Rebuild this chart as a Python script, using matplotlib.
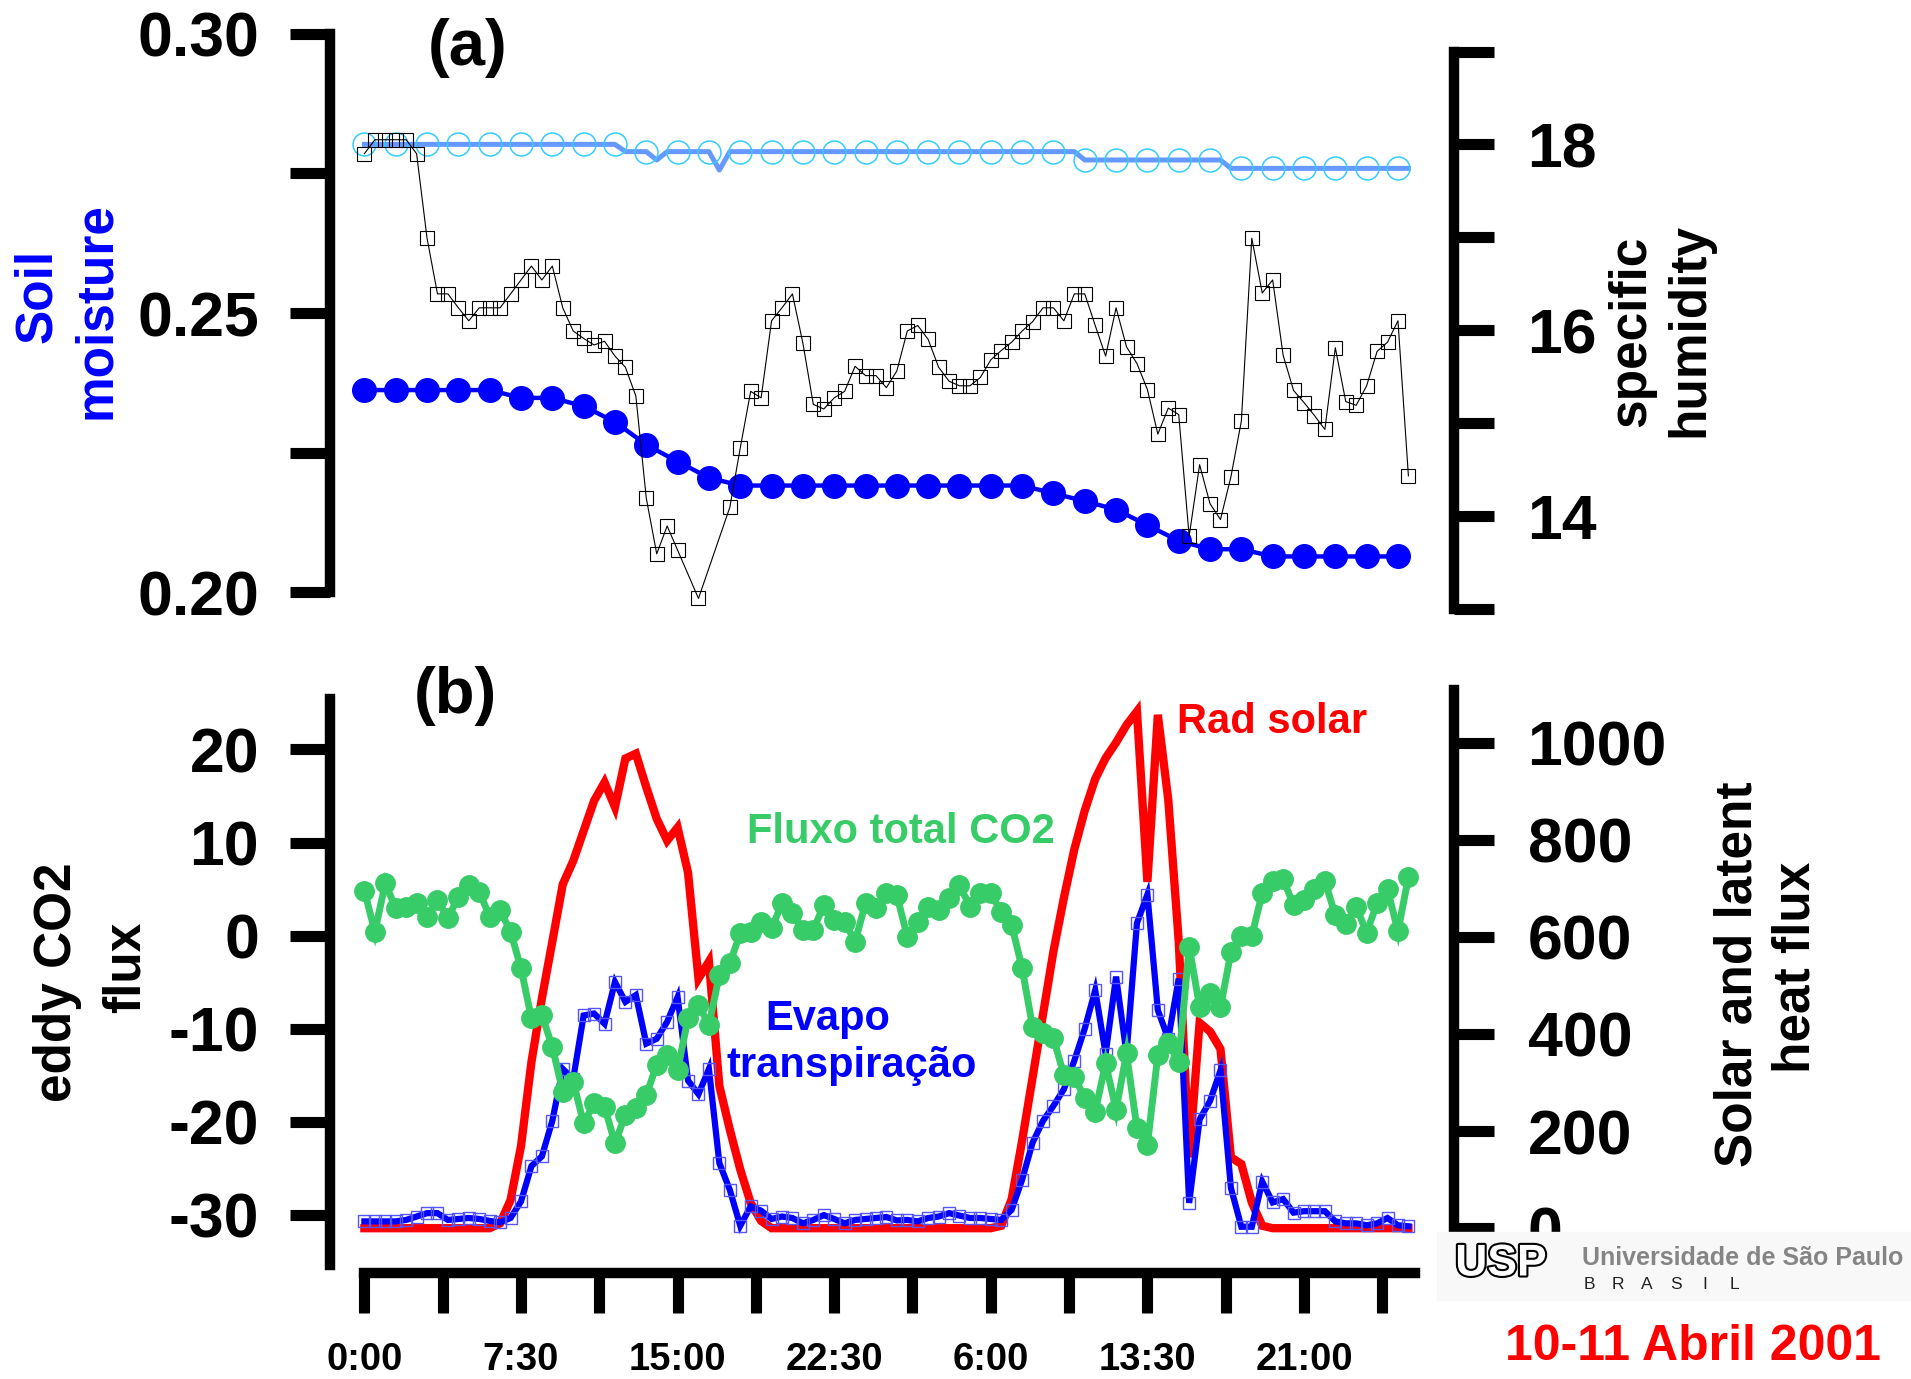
import numpy as np
import matplotlib
matplotlib.use("Agg")
import matplotlib.pyplot as plt
from matplotlib.patches import Rectangle
import matplotlib.patheffects as pe

plt.rcParams['font.family'] = ['Liberation Sans', 'DejaVu Sans']
plt.rcParams['font.weight'] = 'bold'

# time axis in hours from 0:00 of 10 April
half_hours = np.arange(0, 50.5, 0.5)          # 101 samples
ninety_min = np.arange(34) * 1.5              # soil moisture samples

# (a) soil moisture (left axis)
soil_deep = [0.2362, 0.2362, 0.2362, 0.2362, 0.2362, 0.2348, 0.2348, 0.2333, 0.2305,
             0.2264, 0.2234, 0.2205, 0.2191, 0.2191, 0.2191, 0.2191, 0.2191, 0.2191,
             0.2191, 0.2191, 0.2191, 0.2191, 0.2177, 0.2163, 0.2148, 0.2120, 0.2092,
             0.2077, 0.2077, 0.2064, 0.2064, 0.2064, 0.2064, 0.2064]
soil_shallow = [0.2802, 0.2802, 0.2802, 0.2802, 0.2802, 0.2802, 0.2802, 0.2802, 0.2802,
                0.2789, 0.2789, 0.2789, 0.2789, 0.2789, 0.2789, 0.2789, 0.2789, 0.2789,
                0.2789, 0.2789, 0.2789, 0.2789, 0.2789, 0.2774, 0.2774, 0.2774, 0.2774,
                0.2774, 0.2759, 0.2759, 0.2759, 0.2759, 0.2759, 0.2759]
shallow_line_t = [0, 12, 12.5, 13.5, 14, 14.5, 16.5, 17, 17.5, 34, 34.5, 41, 41.5, 50]
shallow_line = [0.2802, 0.2802, 0.2789, 0.2789, 0.2774, 0.2789, 0.2789, 0.2756, 0.2789,
                0.2789, 0.2774, 0.2774, 0.2759, 0.2759]

# (a) specific humidity (right axis), every 30 min
nan = np.nan
spec_hum = [17.90, 18.05, 18.05, 18.05, 18.05, 17.90, 16.99, 16.39, 16.39, 16.24,
            16.10, 16.24, 16.24, 16.24, 16.39, 16.54, 16.69, 16.54, 16.69, 16.24,
            15.99, 15.91, 15.84, 15.88, 15.72, 15.60, 15.29, 14.19, 13.59, 13.89,
            13.63, nan, 13.11, nan, nan, 14.09, 14.73, 15.34, 15.27, 16.10,
            16.24, 16.39, 15.86, 15.20, 15.15, 15.27, 15.34, 15.61, 15.51, 15.51,
            15.38, 15.56, 15.99, 16.05, 15.90, 15.60, 15.45, 15.40, 15.40, 15.49,
            15.68, 15.78, 15.87, 15.99, 16.09, 16.24, 16.24, 16.10, 16.39, 16.39,
            16.05, 15.72, 16.24, 15.82, 15.64, 15.36, 14.88, 15.16, 15.09, 13.78,
            14.55, 14.13, 13.96, 14.42, 15.02, 16.99, 16.40, 16.54, 15.73, 15.35,
            15.22, 15.08, 14.93, 15.81, 15.23, 15.19, 15.40, 15.77, 15.87, 16.10,
            14.43]

# (b) eddy CO2 flux (left axis)
co2_flux = [4.82, 0.42, 5.62, 2.93, 3.11, 3.47, 2.03, 3.82, 1.86, 4.18, 5.44, 4.72, 2.03, 2.75,
            0.42, -3.51, -8.88, -8.53, -11.94, -16.77, -15.69, -20.17, -18.02, -18.38,
            -22.31, -19.26, -18.55, -17.12, -13.90, -12.83, -14.44, -8.88, -7.44, -9.60,
            -4.23, -2.97, 0.24, 0.42, 1.50, 0.78, 3.47,
            2.40, 0.60, 0.60, 3.29, 1.68, 1.50, -0.65, 3.47, 2.93, 4.54, 4.36, -0.11, 1.50,
            3.11, 2.75, 4.00, 5.44, 3.11, 4.54, 4.54, 2.57,
            1.14, -3.51, -9.78, -10.50, -11.03, -14.97, -15.15, -17.48, -18.91, -13.72,
            -18.73, -12.65, -20.70, -22.49, -12.83, -11.57, -13.55, -1.19, -7.64, -6.21,
            -7.70, -1.80, 0.00, -0.06, 4.59, 5.89, 6.08, 3.29, 3.85, 4.96, 5.89, 2.17,
            1.25, 3.10, 0.31, 3.47, 4.96, 0.49, 6.26]

# (b) solar radiation and latent heat flux (right axis)
rad_solar = [0] * 13 + [10, 58, 169, 342, 473, 590, 708, 756, 818, 880, 918, 867, 967,
             977, 908, 843, 798, 825, 732, 514, 549, 293, 203, 121, 52, 15] + [0] * 22 + \
            [5, 60, 180, 310, 440, 570, 680, 780, 860, 925, 968, 1000, 1036, 1064, 713,
             1057, 882, 591, 146, 423, 405, 369, 146, 132, 53, 5] + [0] * 14
evapo = [14, 14, 14, 14, 17, 24, 31, 31, 17, 19, 21, 19, 15, 12,
         21, 55, 128, 148, 221, 328, 307, 438, 442, 421, 507, 466, 480, 380, 390, 425,
         476, 304, 276, 328, 134, 79, 5, 45, 36, 19, 24,
         21, 10, 17, 27, 19, 10, 17, 19, 21, 23, 16, 17, 14, 21, 24, 31, 26, 21, 21, 19, 17,
         38, 100, 176, 221, 252, 286, 345, 411, 490, 359, 518, 359, 628, 687, 449, 390,
         514, 52, 224, 262, 325, 83, 3, 3, 96, 53, 60, 32, 35, 35, 35, 14, 10, 10, 6, 10,
         21, 6, 4]

xtick_pos = np.arange(0, 49, 3.75)
xtick_lab = ['0:00', '', '7:30', '', '15:00', '', '22:30', '', '6:00', '', '13:30', '', '21:00', '']

W, H = 1911, 1379
fig = plt.figure(figsize=(W / 100, H / 100), dpi=100)


def box(x0, x1, y0, y1):
    return [x0 / W, 1 - y1 / H, (x1 - x0) / W, (y1 - y0) / H]


def fx(x):
    return x / W


def fy(y):
    return 1 - y / H


def clean(ax):
    for s in ax.spines.values():
        s.set_visible(False)
        s.set_linewidth(7.5)
    ax.tick_params(direction='out', length=29, width=8, labelsize=45)


green = '#38cc68'
xlim = (-1.6475, 52.184)

# ---------------- panel (a) ----------------
ax_a = fig.add_axes(box(330, 1454, 30, 615))
ax_a2 = ax_a.twinx()
clean(ax_a)
clean(ax_a2)
ax_a.set_xlim(xlim)
ax_a.set_xticks([])
ax_a.set_ylim(0.195917, 0.300681)
ax_a.spines['left'].set_visible(True)
ax_a.spines['left'].set_bounds(0.20, 0.30)
ax_a.set_yticks([0.20, 0.225, 0.25, 0.275, 0.30])
ax_a.set_yticklabels(['0.20', '', '0.25', '', '0.30'])
ax_a.tick_params(axis='y', pad=22)

ax_a2.set_ylim(12.9316, 19.232)
ax_a2.spines['right'].set_visible(True)
ax_a2.spines['right'].set_bounds(13, 19)
ax_a2.set_yticks(range(13, 20))
ax_a2.set_yticklabels(['', '14', '', '16', '', '18', ''])
ax_a2.tick_params(axis='y', pad=24)

ax_a.plot(ninety_min, soil_deep, color='#0000ff', lw=3.2, marker='o', ms=17)
ax_a.plot(shallow_line_t, shallow_line, color='#6699ff', lw=3.6)
ax_a.plot(ninety_min, soil_shallow, ls='none', marker='o', ms=16.5, mfc='none',
          mec='#33ccff', mew=1.1)
sh = np.array(spec_hum)
ok = ~np.isnan(sh)
ax_a2.plot(half_hours[ok], sh[ok], color='black', lw=0.8, marker='s', ms=10,
           mfc='none', mec='black', mew=0.8)

# ---------------- panel (b) ----------------
ax_b = fig.add_axes(box(330, 1454, 690, 1273))
ax_b2 = ax_b.twinx()
clean(ax_b)
clean(ax_b2)
ax_b.set_xlim(xlim)
ax_b.set_ylim(-36.25, 26.39)
ax_b.spines['left'].set_visible(True)
ax_b.spines['left'].set_bounds(-35.4, 25.4)
ax_b.spines['bottom'].set_visible(True)
ax_b.spines['bottom'].set_bounds(0, 50.3)
ax_b.set_yticks([-30, -20, -10, 0, 10, 20])
ax_b.set_yticklabels(['-30', '-20', '-10', '0', '10', '20'])
ax_b.tick_params(axis='y', pad=22)
ax_b.set_xticks(xtick_pos)
ax_b.set_xticklabels(xtick_lab)
ax_b.tick_params(axis='x', labelsize=27.5, pad=21)

ax_b2.set_ylim(-92.24, 1108.1)
ax_b2.spines['right'].set_visible(True)
ax_b2.spines['right'].set_bounds(-12, 1108)
ax_b2.set_yticks([0, 200, 400, 600, 800, 1000])
ax_b2.tick_params(axis='y', pad=24)

ax_b2.plot(half_hours, rad_solar, color='#ff0000', lw=6, solid_joinstyle='miter')
ax_b2.plot(half_hours, evapo, color='#0000ff', lw=4.5, solid_joinstyle='miter',
           marker='s', ms=8.5, mfc='none', mec='#5555ff', mew=1.0)
ax_b.set_zorder(ax_b2.get_zorder() + 1)
ax_b.patch.set_visible(False)
ax_b.plot(half_hours, co2_flux, color=green, lw=5, solid_joinstyle='miter',
          marker='o', ms=14)

# ---------------- labels ----------------
fig.text(fx(468), fy(48), '(a)', fontsize=47, ha='center', va='center')
fig.text(fx(455), fy(696), '(b)', fontsize=47, ha='center', va='center')

lab = dict(fontsize=37, rotation=90, rotation_mode='anchor', ha='center', va='baseline')
fig.text(fx(51), fy(296), 'Soil', color='#0000ff', **lab)
fig.text(fx(110), fy(311), 'moisture', color='#0000ff', **lab)
fig.text(fx(71), fy(982), 'eddy CO2', **lab)
fig.text(fx(140), fy(967), 'flux', **lab)
fig.text(fx(1645), fy(331), 'specific', **lab)
fig.text(fx(1703), fy(330), 'humidity', **lab)
fig.text(fx(1752), fy(974), 'Solar and latent', **lab)
fig.text(fx(1810), fy(967), 'heat flux', **lab)

fig.text(fx(1272), fy(733), 'Rad solar', color='#ff0000', fontsize=30, ha='center', va='baseline')
fig.text(fx(901), fy(843), 'Fluxo total CO2', color=green, fontsize=30, ha='center', va='baseline')
fig.text(fx(828), fy(1030), 'Evapo', color='#0000ff', fontsize=30, ha='center', va='baseline')
fig.text(fx(852), fy(1077), 'transpiração', color='#0000ff', fontsize=30, ha='center', va='baseline')

# logo block
fig.patches.append(Rectangle((fx(1437), fy(1300)), (W - 1437) / W, 68 / H,
                             transform=fig.transFigure, color='#f8f8f8', zorder=5))
fig.text(fx(1501), fy(1264), 'USP', fontsize=32, color='white', ha='center', va='center',
         zorder=6, path_effects=[pe.withStroke(linewidth=3, foreground='black')])
fig.text(fx(1582), fy(1265), 'Universidade de São Paulo', fontsize=18, color='#858585',
         ha='left', va='baseline', zorder=6)
for i, ch in enumerate('BRASIL'):
    fig.text(fx(1589 + i * 29), fy(1289), ch, fontsize=12.5, fontweight='normal',
             color='#222222', ha='center', va='baseline', zorder=6)
fig.text(fx(1505), fy(1360), '10-11 Abril 2001', fontsize=36, color='#ff0000',
         ha='left', va='baseline', zorder=6)

fig.savefig('out.png', dpi=100)
